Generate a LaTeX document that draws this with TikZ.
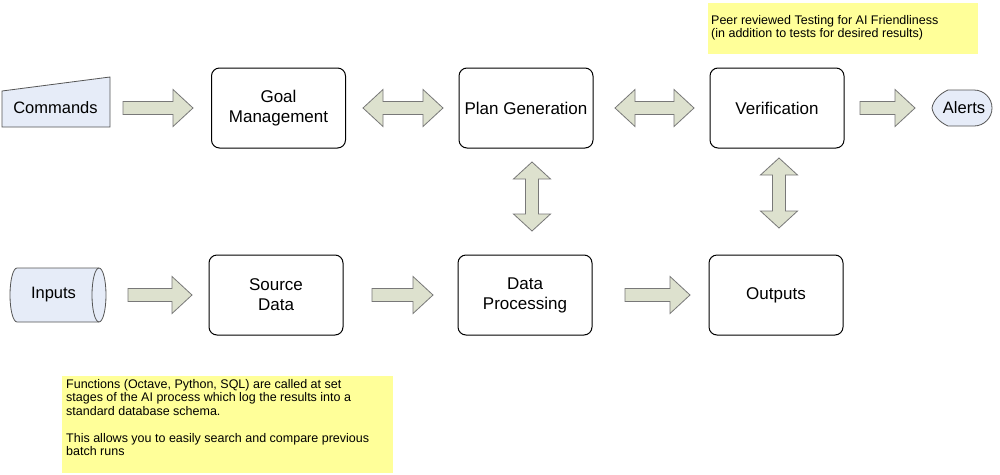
\documentclass[tikz,border=0pt]{standalone}
\usepackage{fontspec}
\setmainfont{Liberation Sans}
\usetikzlibrary{calc}
\definecolor{arrowfill}{RGB}{221,225,206}
\definecolor{arrowdraw}{RGB}{120,120,120}
\definecolor{termfill}{RGB}{230,236,248}
\definecolor{termdraw}{RGB}{85,85,85}
\definecolor{noteyellow}{RGB}{255,255,153}
\tikzset{
  procbox/.style={draw=black, line width=1pt, rounded corners=8pt, minimum width=134pt, minimum height=80pt, align=center, inner sep=2pt, font=\fontsize{17}{20}\selectfont},
  termtext/.style={inner sep=0pt, font=\fontsize{16.5}{20}\selectfont},
  termshape/.style={draw=termdraw, fill=termfill, line width=0.8pt},
  blockarrow/.style={draw=arrowdraw, fill=arrowfill, line width=0.8pt, line join=miter},
  notetext/.style={inner sep=0pt, align=left, anchor=north west, font=\fontsize{12.5}{13.5}\selectfont}
}
\newcommand\blkSingle[3]{%
  \coordinate (bh) at ($(#2)!#3pt!(#1)$);
  \draw[blockarrow] ($(#1)!6.5pt!90:(#2)$) -- ($(bh)!6.5pt!-90:(#1)$) -- ($(bh)!18.5pt!-90:(#1)$) -- (#2) -- ($(bh)!18.5pt!90:(#1)$) -- ($(bh)!6.5pt!90:(#1)$) -- ($(#1)!6.5pt!-90:(#2)$) -- cycle;}
\newcommand\blkDouble[3]{%
  \coordinate (ha) at ($(#1)!#3pt!(#2)$);
  \coordinate (hb) at ($(#2)!#3pt!(#1)$);
  \draw[blockarrow] (#1) -- ($(ha)!18.5pt!90:(#2)$) -- ($(ha)!6.5pt!90:(#2)$) -- ($(hb)!6.5pt!-90:(#1)$) -- ($(hb)!18.5pt!-90:(#1)$) -- (#2) -- ($(hb)!18.5pt!90:(#1)$) -- ($(hb)!6.5pt!90:(#1)$) -- ($(ha)!6.5pt!-90:(#2)$) -- ($(ha)!18.5pt!-90:(#2)$) -- cycle;}
\begin{document}
\begin{tikzpicture}[x=1pt, y=-1pt]
\useasboundingbox (0,0) rectangle (1000,474);
\fill[white] (0,0) rectangle (1000,474);

% process boxes
\node[procbox] (goal) at (278.5,108) {Goal\\Management};
\node[procbox] (plan) at (526,108) {Plan Generation};
\node[procbox] (verif) at (777,108) {Verification};
\node[procbox] (src) at (276,295) {Source\\Data};
\node[procbox] (dp) at (525,295) {Data\\Processing};
\node[procbox] (out) at (776,295) {Outputs};

% Commands (manual input)
\draw[termshape] (2,91) -- (110,77) -- (110,127) -- (2,127) -- cycle;
\node[termtext] (cmd) at (55.5,108) {Commands};

% Inputs (stored data cylinder)
\draw[termshape] (17,268) -- (99,268) arc[start angle=90, end angle=-90, x radius=7pt, y radius=27pt] -- (17,322) arc[start angle=270, end angle=90, x radius=7pt, y radius=27pt] -- cycle;
\draw[termdraw, line width=0.8pt] (99,268) arc[start angle=90, end angle=270, x radius=7pt, y radius=27pt];
\node[termtext] (inp) at (53.5,295) {Inputs};

% Alerts (display)
\draw[termshape] (948,90) -- (974,90) arc[start angle=90, end angle=-90, x radius=18pt, y radius=18pt] -- (948,126) .. controls (939,122) and (933,115) .. (932,108) .. controls (933,101) and (939,94) .. (948,90) -- cycle;
\node[termtext] (alerts) at (964,108) {Alerts};

% arrow end points
\coordinate (c1s) at (123,108);  \coordinate (c1e) at (193,108);
\coordinate (c2s) at (363,108);  \coordinate (c2e) at (443,108);
\coordinate (c3s) at (615,108);  \coordinate (c3e) at (694,108);
\coordinate (c4s) at (860,108);  \coordinate (c4e) at (915,108);
\coordinate (c5s) at (128,295);  \coordinate (c5e) at (192,295);
\coordinate (c6s) at (372,295);  \coordinate (c6e) at (433,295);
\coordinate (c7s) at (625,295);  \coordinate (c7e) at (690,295);
\coordinate (c8s) at (532,162);  \coordinate (c8e) at (532,231);
\coordinate (c9s) at (779,158);  \coordinate (c9e) at (779,228);

\blkSingle{c1s}{c1e}{20}
\blkDouble{c2s}{c2e}{20}
\blkDouble{c3s}{c3e}{20}
\blkSingle{c4s}{c4e}{20}
\blkSingle{c5s}{c5e}{20}
\blkSingle{c6s}{c6e}{20}
\blkSingle{c7s}{c7e}{20}
\blkDouble{c8s}{c8e}{17}
\blkDouble{c9s}{c9e}{17}

% notes
\fill[noteyellow] (708,3) rectangle (978,54);
\node[notetext] (noteA) at (711,15) {Peer reviewed Testing for AI Friendliness\\(in addition to tests for desired results)};

\fill[noteyellow] (62,376) rectangle (393,473);
\node[notetext] (noteB) at (66,379) {Functions (Octave, Python, SQL) are called at set\\stages of the AI process which log the results into a\\standard database schema.\\[13.5pt]This allows you to easily search and compare previous\\batch runs};
\end{tikzpicture}
\end{document}
